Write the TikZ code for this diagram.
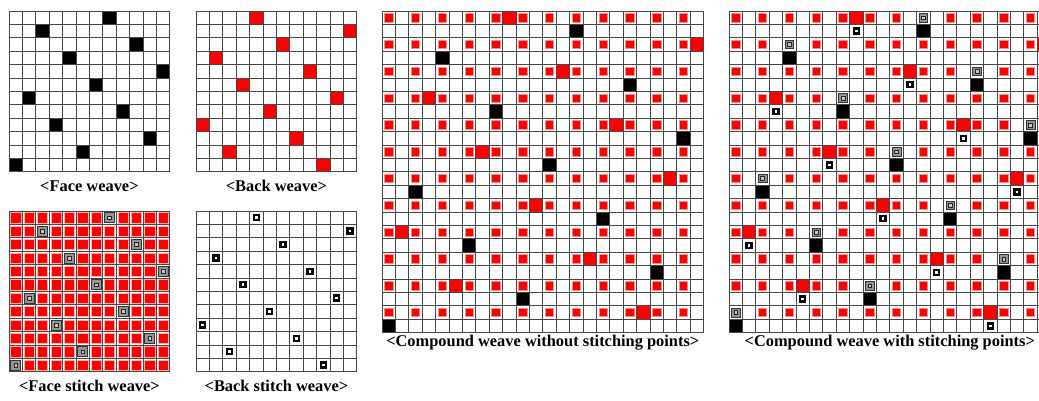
\documentclass[tikz,border=0pt]{standalone}
\usepackage{fontspec}
\setmainfont{Liberation Serif}
\def\CW{13.4}
\tikzset{
  gridln/.style={draw=black!72, line width=0.75pt},
  redsmall/.style={rectangle, fill=red, draw=red!45, line width=0.5pt, inner sep=0pt, minimum size=8.4pt},
  redface/.style={rectangle, fill=red, draw=red!30, line width=0.6pt, inner sep=0pt, minimum size=10.2pt},
  redfull/.style={rectangle, fill=red, inner sep=0pt, minimum size=13.4pt},
  blackfull/.style={rectangle, fill=black, inner sep=0pt, minimum size=13.4pt},
  grayouter/.style={rectangle, fill=black!42, draw=black!80, line width=0.6pt, inner sep=0pt, minimum size=#1},
  grayinner/.style={rectangle, fill=black!22, draw=black!85, line width=0.4pt, inner sep=0pt, minimum size=3.8pt},
  dotouter/.style={rectangle, fill=black, inner sep=0pt, minimum size=7.4pt},
  dotinner/.style={rectangle, fill=white, inner sep=0pt, minimum size=2.6pt},
  caption/.style={font=\bfseries\fontsize{16.4}{18}\selectfont, anchor=base, inner sep=0pt},
}
% #1 x0, #2 y0, #3 row, #4 col, #5 style
\newcommand\cellnode[5]{\node[#5] at ({#1+(#3+0.5)*0+(#4+0.5)*\CW},{#2+(#3+0.5)*\CW}) {};}
\newcommand\graycell[5]{%
  \node[grayouter=#5] at ({#1+(#4+0.5)*\CW},{#2+(#3+0.5)*\CW}) {};
  \node[grayinner] at ({#1+(#4+0.5)*\CW},{#2+(#3+0.5)*\CW}) {};}
\newcommand\dotcell[4]{%
  \node[dotouter] at ({#1+(#4+0.5)*\CW},{#2+(#3+0.5)*\CW}) {};
  \node[dotinner] at ({#1+(#4+0.5)*\CW},{#2+(#3+0.5)*\CW}) {};}
\newcommand\weavegrid[3]{%
  \foreach \i in {0,...,#3}{
    \draw[gridln] ({#1+\i*\CW},#2) -- ({#1+\i*\CW},{#2+#3*\CW});
    \draw[gridln] (#1,{#2+\i*\CW}) -- ({#1+#3*\CW},{#2+\i*\CW});
  }}
\begin{document}
\begin{tikzpicture}[x=1pt,y=-1pt]
\useasboundingbox (0,0) rectangle (1039,401);
\clip (0,0) rectangle (1039,401);
\fill[white] (0,0) rectangle (1039,401);
\foreach \r in {0,...,11}{
  \pgfmathtruncatemacro\fc{mod(5*(11-\r),12)}
  \pgfmathtruncatemacro\bc{mod(9+5*(11-\r),12)}
  % face weave
  \cellnode{9}{11}{\r}{\fc}{blackfull}
  % back weave
  \cellnode{196}{11}{\r}{\bc}{redfull}
  % back stitch weave
  \dotcell{196}{211}{\r}{\bc}
  \foreach \c in {0,...,11}{
    % face stitch weave
    \ifnum\c=\fc
      \graycell{9}{211}{\r}{\c}{10pt}
    \else
      \cellnode{9}{211}{\r}{\c}{redface}
    \fi
    % compound 1
    \cellnode{382}{11}{2*\r}{2*\c}{redsmall}
    % compound 2
    \ifnum\c=\fc
      \graycell{729}{11}{2*\r}{2*\c}{8.6pt}
    \else
      \cellnode{729}{11}{2*\r}{2*\c}{redsmall}
    \fi
  }
  \cellnode{382}{11}{2*\r+1}{2*\fc}{blackfull}
  \cellnode{382}{11}{2*\r}{2*\bc+1}{redfull}
  \cellnode{729}{11}{2*\r+1}{2*\fc}{blackfull}
  \cellnode{729}{11}{2*\r}{2*\bc+1}{redfull}
  \dotcell{729}{11}{2*\r+1}{2*\bc+1}
}
\weavegrid{9}{11}{12}
\weavegrid{196}{11}{12}
\weavegrid{9}{211}{12}
\weavegrid{196}{211}{12}
\weavegrid{382}{11}{24}
\weavegrid{729}{11}{24}
\node[caption] (capFace) at (89.4,191.5) {<Face weave>};
\node[caption] (capBack) at (276.4,191.5) {<Back weave>};
\node[caption] (capFaceStitch) at (89.4,391.5) {<Face stitch weave>};
\node[caption] (capBackStitch) at (276.4,391.5) {<Back stitch weave>};
\node[caption] (capCompA) at (542.8,346) {<Compound weave without stitching points>};
\node[caption] (capCompB) at (889.8,346) {<Compound weave with stitching points>};
\end{tikzpicture}
\end{document}
